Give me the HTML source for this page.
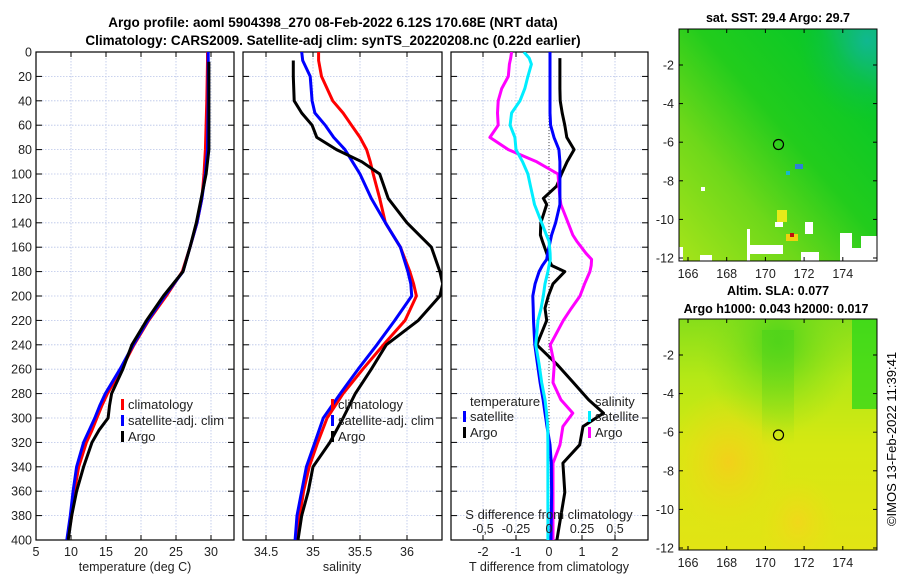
<!DOCTYPE html>
<html><head><meta charset="utf-8"><style>
body{margin:0;background:#fff;}
svg{display:block;font-family:"Liberation Sans","DejaVu Sans",sans-serif;}
</style></head><body>
<svg id="c" width="900" height="580" xmlns="http://www.w3.org/2000/svg">
<defs>
<linearGradient id="sstg" x1="0" y1="1" x2="1" y2="0">
<stop offset="0" stop-color="#a6e41a"/><stop offset="0.3" stop-color="#6ed81a"/><stop offset="0.55" stop-color="#22cc1c"/><stop offset="0.85" stop-color="#08c828"/><stop offset="1" stop-color="#0cb87a"/>
</linearGradient>
<radialGradient id="sstTR" cx="0.95" cy="0.05" r="0.35">
<stop offset="0" stop-color="#10b890"/><stop offset="1" stop-color="#10c040" stop-opacity="0"/>
</radialGradient>
<linearGradient id="slaB" x1="0" y1="0" x2="0" y2="1">
<stop offset="0" stop-color="#86de1a"/><stop offset="0.25" stop-color="#b4e816"/><stop offset="0.55" stop-color="#d6e812"/><stop offset="1" stop-color="#e2e414"/>
</linearGradient>
<radialGradient id="slaA" cx="0.25" cy="0.62" r="0.32">
<stop offset="0" stop-color="#f2d01a"/><stop offset="1" stop-color="#e8e014" stop-opacity="0"/>
</radialGradient>
<radialGradient id="slaA2" cx="0.6" cy="0.88" r="0.2">
<stop offset="0" stop-color="#f0d81a"/><stop offset="1" stop-color="#e8e014" stop-opacity="0"/>
</radialGradient>
<radialGradient id="slaC" cx="0.5" cy="0.1" r="0.4">
<stop offset="0" stop-color="#4cd41a"/><stop offset="1" stop-color="#8ee01a" stop-opacity="0"/>
</radialGradient>
<linearGradient id="slaCol" x1="0" y1="0" x2="0" y2="1">
<stop offset="0" stop-color="#50d41a" stop-opacity="0.8"/><stop offset="1" stop-color="#70d81a" stop-opacity="0"/>
</linearGradient>
<clipPath id="cp1"><rect x="36" y="52" width="198" height="488"/></clipPath>
<clipPath id="cp2"><rect x="243" y="52" width="199" height="488"/></clipPath>
<clipPath id="cp3"><rect x="451" y="52" width="197" height="488"/></clipPath>
</defs>
<text x="333" y="27" text-anchor="middle" font-size="13.5" font-weight="bold">Argo profile: aoml 5904398_270 08-Feb-2022 6.12S 170.68E (NRT data)</text>
<text x="333" y="45" text-anchor="middle" font-size="13.5" font-weight="bold">Climatology: CARS2009. Satellite-adj clim: synTS_20220208.nc (0.22d earlier)</text>
<g id="g1"></g>
<g id="g2"></g>
<g id="g3"></g>
<g id="maps">
<text x="778" y="22" text-anchor="middle" font-size="12.5" font-weight="bold">sat. SST: 29.4 Argo: 29.7</text>
<rect x="679" y="29" width="198" height="232" fill="url(#sstg)"/>
<rect x="679" y="29" width="198" height="232" fill="url(#sstTR)"/>
<g fill="#fff">
<rect x="750" y="245" width="33" height="9"/><rect x="747" y="229" width="3" height="32"/><rect x="679" y="247" width="4" height="14"/><rect x="700" y="255" width="12" height="6"/><rect x="805" y="222" width="8" height="12"/><rect x="840" y="248" width="37" height="13"/><rect x="840" y="233" width="12" height="15"/><rect x="861" y="236" width="16" height="12"/><rect x="801" y="252" width="18" height="9"/><rect x="775" y="222" width="8" height="5"/><rect x="701" y="187" width="4" height="4"/>
</g>
<rect x="777" y="210" width="10" height="12" fill="#e6ea1a"/><rect x="786" y="234" width="12" height="7" fill="#f0d010"/><rect x="790" y="233" width="4" height="4" fill="#c01010"/><rect x="795" y="164" width="8" height="5" fill="#2f7fd8"/><rect x="786" y="171" width="4" height="4" fill="#18b8c8"/>
<rect x="679" y="29" width="198" height="232" fill="none" stroke="#000" stroke-width="1"/>
<circle cx="778.5" cy="144.5" r="5" fill="none" stroke="#000" stroke-width="1.2"/>
<text x="778" y="295" text-anchor="middle" font-size="12.5" font-weight="bold">Altim. SLA: 0.077</text>
<text x="776" y="313" text-anchor="middle" font-size="12.5" font-weight="bold">Argo h1000: 0.043 h2000: 0.017</text>
<rect x="679" y="319" width="198" height="231" fill="url(#slaB)"/>
<rect x="679" y="319" width="198" height="231" fill="url(#slaA)"/>
<rect x="679" y="319" width="198" height="231" fill="url(#slaA2)"/>
<rect x="679" y="319" width="198" height="231" fill="url(#slaC)"/>
<rect x="762" y="330" width="32" height="115" fill="url(#slaCol)"/>
<rect x="852" y="319" width="25" height="90" fill="#2cd81a" opacity="0.75"/>
<rect x="679" y="319" width="198" height="231" fill="none" stroke="#000" stroke-width="1"/>
<circle cx="778.5" cy="435" r="5" fill="none" stroke="#000" stroke-width="1.2"/>
<text transform="translate(896,439) rotate(-90)" text-anchor="middle" font-size="13">©IMOS 13-Feb-2022 11:39:41</text>
</g>
</svg>
<script>
// ---- data ----
const tDepth = [0,8,40,80,100,120,140,160,180,200,220,240,260,280,290,300,310,320,340,360,380,400];
const tArgo  = [null,29.7,29.7,29.7,29.3,28.6,27.9,27.0,26.0,23.2,20.8,18.7,17.4,15.8,15.5,15.3,14.0,13.0,11.8,10.8,10.1,9.6];
const tClim  = [29.5,29.5,29.4,29.2,29.0,28.7,28.0,27.0,25.9,23.6,21.1,19.0,17.2,15.2,14.4,13.7,13.0,12.2,11.1,10.5,10.1,9.5];
const tSat   = [29.6,29.6,29.6,29.5,29.2,28.7,28.0,27.0,26.0,23.4,21.0,18.9,17.0,14.9,14.1,13.4,12.6,11.8,10.8,10.3,9.9,9.4];

const sDepth = [0,7,20,40,50,60,70,80,90,100,120,140,160,180,190,200,220,240,260,280,300,320,340,360,380,400];
const sArgo  = [null,34.79,34.79,34.80,34.88,34.99,35.04,35.25,35.52,35.71,35.80,36.00,36.26,36.35,36.38,36.35,36.12,35.78,35.62,35.45,35.32,35.18,35.00,34.95,34.88,34.84];
const sClim  = [35.06,35.06,35.09,35.21,35.32,35.41,35.50,35.57,35.61,35.64,35.71,35.77,35.93,36.03,36.07,36.10,35.98,35.75,35.53,35.32,35.15,35.05,34.96,34.90,34.86,34.83];
const sSat   = [34.88,34.89,34.97,34.99,35.02,35.13,35.22,35.34,35.42,35.50,35.62,35.77,35.93,36.01,36.04,36.05,35.87,35.68,35.48,35.29,35.11,35.02,34.93,34.88,34.83,34.81];

const dDepth = [0,5,10,20,30,40,50,60,70,80,90,100,110,120,125,140,150,155,165,170,175,180,190,200,210,220,240,256,271,285,296,307,322,337,361,400];
const dTSat  = [0.03,0.03,0.03,0.03,0.03,0.03,0.03,0.05,0.15,0.30,0.33,0.33,0.33,0.33,0.33,0.2,0.08,0.04,-0.04,-0.07,-0.2,-0.3,-0.42,-0.49,-0.48,-0.47,-0.43,-0.35,-0.27,-0.18,-0.12,-0.06,0.03,0.07,0.08,0.06];
const dTArgo = [null,0.33,0.33,0.33,0.33,0.34,0.4,0.48,0.54,0.76,0.55,0.38,0.23,-0.17,-0.07,-0.25,-0.26,-0.2,-0.07,0.0,0.08,0.48,0.12,-0.02,-0.12,-0.07,-0.37,0.24,0.74,1.2,1.65,1.03,0.93,0.42,0.48,0.24];
// S differences in salinity units (plotted x4 on T axis)
const dSSat  = [-0.19,-0.15,-0.133,-0.16,-0.183,-0.22,-0.283,-0.295,-0.258,-0.25,-0.2,-0.16,-0.14,-0.12,-0.11,-0.055,-0.02,0.0,0.008,0.01,0.0,-0.008,-0.03,-0.043,-0.06,-0.083,-0.1,-0.075,-0.055,-0.03,-0.018,-0.01,-0.008,-0.008,-0.008,-0.008];
const dSArgo = [-0.283,-0.29,-0.3,-0.308,-0.358,-0.385,-0.39,-0.385,-0.448,-0.308,-0.093,0.068,0.075,0.083,0.09,0.145,0.18,0.21,0.28,0.323,0.32,0.31,0.27,0.235,0.17,0.108,0.01,0.04,0.03,0.09,0.18,0.105,0.083,0.03,0.03,0.03];

const tTicks = [5,10,15,20,25,30];
const sTicks = [34.5,35,35.5,36];
const dTicks = [-2,-1,0,1,2];
const dSTicks = [-0.5,-0.25,0,0.25,0.5];
const dSLabels = ["-0,5","-0.25","0","0.25","0,5"];
const depthTicks = [0,20,40,60,80,100,120,140,160,180,200,220,240,260,280,300,320,340,360,380,400];

// ---- axes ----
const Y0=52, Y1=540;
const yD = d => Y0 + d*(Y1-Y0)/400;
const xT = v => 36 + (v-5)*7.0;
const xS = v => 266 + (v-34.5)*94;
const xDT = v => 549 + v*33;
const xDS = v => 549 + v*4*33;
const NS="http://www.w3.org/2000/svg";
function mk(tag, attrs, parent){const e=document.createElementNS(NS,tag);for(const k in attrs)e.setAttribute(k,attrs[k]);parent.appendChild(e);return e;}
function txt(parent,x,y,s,anchor,size){const t=mk('text',{x:x,y:y,'text-anchor':anchor||'middle','font-size':size||12.5,fill:'#222'},parent);t.textContent=s;return t;}

function panel(g, x0, x1, ticks, xf, labels, showDepth){
  for(const d of depthTicks){
    const gl=mk('line',{x1:x0,x2:x1,y1:yD(d),y2:yD(d),stroke:'#b8c4e8','stroke-width':0.8,'stroke-dasharray':'1.5,1.5'},g);
    
    
    mk('line',{x1:x0,x2:x0+6,y1:yD(d),y2:yD(d),stroke:'#000'},g);
    mk('line',{x1:x1-6,x2:x1,y1:yD(d),y2:yD(d),stroke:'#000'},g);
    if(showDepth){const t=txt(g,x0-4,yD(d)+4.5,String(d),'end');
      
      }
  }
  ticks.forEach((v,i)=>{
    const x=xf(v);
    mk('line',{x1:x,x2:x,y1:Y0,y2:Y1,stroke:'#b8c4e8','stroke-width':0.8,'stroke-dasharray':'1.5,1.5'},g);
    mk('line',{x1:x,x2:x,y1:Y1-5,y2:Y1,stroke:'#000'},g);
    mk('line',{x1:x,x2:x,y1:Y0,y2:Y0+5,stroke:'#000'},g);
    if(labels){const t=txt(g,x,Y1+16,labels[i]);
      
      }
  });
  mk('rect',{x:x0,y:Y0,width:x1-x0,height:Y1-Y0,fill:'none',stroke:'#000','stroke-width':1.2},g);
}
function line(g, depths, vals, xf, color, clip, name){
  let d='';let started=false;
  depths.forEach((dp,i)=>{const v=vals[i];if(v===null)return;d+=(started?'L':'M')+xf(v).toFixed(1)+','+yD(dp).toFixed(1);started=true;});
  const p=mk('path',{d:d,fill:'none',stroke:color,'stroke-width':3,'stroke-linejoin':'round','clip-path':'url(#'+clip+')'},g);
  
  
}
function legItem(g,x,y,color,label){
  mk('rect',{x:x,y:y-10,width:3,height:11,fill:color},g);
  const t=txt(g,x+7,y,label,'start',13);
  
  
}

const g1=document.getElementById('g1'),g2=document.getElementById('g2'),g3=document.getElementById('g3');
panel(g1,36,234,tTicks,xT,tTicks.map(String),true);
line(g1,tDepth,tClim,xT,'#f00','cp1','temperature-climatology-line');
line(g1,tDepth,tSat,xT,'#00f','cp1','temperature-satellite-line');
line(g1,tDepth,tArgo,xT,'#000','cp1','temperature-argo-line');
txt(g1,135,571,'temperature (deg C)');
legItem(g1,121,409,'#f00','climatology');legItem(g1,121,425,'#00f','satellite-adj. clim');legItem(g1,121,441,'#000','Argo');

panel(g2,243,442,sTicks,xS,sTicks.map(String),false);
line(g2,sDepth,sClim,xS,'#f00','cp2','salinity-climatology-line');
line(g2,sDepth,sSat,xS,'#00f','cp2','salinity-satellite-line');
line(g2,sDepth,sArgo,xS,'#000','cp2','salinity-argo-line');
txt(g2,342,571,'salinity');
legItem(g2,331,409,'#f00','climatology');legItem(g2,331,425,'#00f','satellite-adj. clim');legItem(g2,331,441,'#000','Argo');

panel(g3,451,648,dTicks,xDT,dTicks.map(String),false);
mk('line',{x1:549,x2:549,y1:Y0,y2:Y1,stroke:'#444','stroke-width':1,'stroke-dasharray':'1,2'},g3);
line(g3,dDepth,dTArgo,xDT,'#000','cp3','tdiff-argo-line');
line(g3,dDepth,dSArgo,xDS,'#f0f','cp3','sdiff-argo-line');
line(g3,dDepth,dTSat,xDT,'#00f','cp3','tdiff-satellite-line');
line(g3,dDepth,dSSat,xDS,'#0ef','cp3','sdiff-satellite-line');
txt(g3,549,571,'T difference from climatology');
txt(g3,549,519,'S difference from climatology',undefined,13);
dSTicks.forEach((v,i)=>{const t=txt(g3,xDS(v),533,dSLabels[i]);
  
  });
txt(g3,470,406,'temperature','start',13);
legItem(g3,463,421,'#00f','satellite');legItem(g3,463,437,'#000','Argo');
txt(g3,595,406,'salinity','start',13);
legItem(g3,588,421,'#0ef','satellite');legItem(g3,588,437,'#f0f','Argo');

// map axes
const maps=document.getElementById('maps');
const lonTicks=[166,168,170,172,174];
const latTicks=[-2,-4,-6,-8,-10,-12];
const xLon=v=>688+(v-166)*19.35;
function mapAxes(top,bottom,yLat){
  lonTicks.forEach(v=>{mk('line',{x1:xLon(v),x2:xLon(v),y1:bottom-4,y2:bottom,stroke:'#000'},maps);
    mk('line',{x1:xLon(v),x2:xLon(v),y1:top,y2:top+4,stroke:'#000'},maps);
    const t=txt(maps,xLon(v),bottom+17,String(v));
    
    });
  latTicks.forEach(v=>{mk('line',{x1:679,x2:683,y1:yLat(v),y2:yLat(v),stroke:'#000'},maps);
    mk('line',{x1:873,x2:877,y1:yLat(v),y2:yLat(v),stroke:'#000'},maps);
    const t=txt(maps,674,yLat(v)+4.5,String(v),'end');
    
    });
}
mapAxes(29,261,v=>65+(-2-v)*19.3);
mapAxes(319,550,v=>355+(-2-v)*19.3);
</script>
</body></html>
